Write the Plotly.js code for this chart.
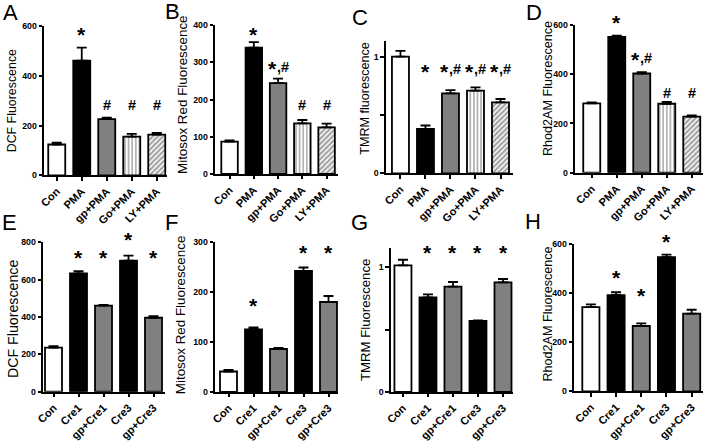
<!DOCTYPE html>
<html><head><meta charset="utf-8">
<script src="https://cdn.plot.ly/plotly-3.0.1.min.js"></script>
<style>html,body{margin:0;padding:0;background:#fff}#chart{width:706px;height:444px}</style>
</head><body><div id="chart"></div>
<script>
// ---------- data ----------
const pmaCats = ["Con", "PMA", "gp+PMA", "Go+PMA", "LY+PMA"];
const creCats = ["Con", "Cre1", "gp+Cre1", "Cre3", "gp+Cre3"];

const aVals = [124, 462, 226, 156, 164];
const aErr  = [7, 52, 6, 11, 7];
const aMarks = ["", "*", "#", "#", "#"];
const aMarkY = [null, 577, 285, 285, 285];

const bVals = [87, 339, 244, 136, 125];
const bErr  = [3, 15, 12, 9, 10];
const bMarks = ["", "*", "*,#", "#", "#"];
const bMarkY = [null, 380, 288, 185, 185];

const cVals = [1.0, 0.38, 0.686, 0.709, 0.609];
const cErr  = [0.05, 0.03, 0.028, 0.028, 0.028];
const cMarks = ["", "*", "*,#", "*,#", "*,#"];
const cMarkY = [null, 0.894, 0.894, 0.894, 0.894];

const dVals = [282, 552, 403, 280, 228];
const dErr  = [4, 5, 5, 8, 5];
const dMarks = ["", "*", "*,#", "#", "#"];
const dMarkY = [null, 620, 467, 325, 325];

const eVals = [236, 634, 461, 702, 396];
const eErr  = [8, 12, 4, 27, 9];
const eMarks = ["", "*", "*", "*", "*"];
const eMarkY = [null, 727, 727, 825, 727];

const fVals = [41, 125, 86, 242, 180];
const fErr  = [3, 4, 2, 7, 12];
const fMarks = ["", "*", "", "*", "*"];
const fMarkY = [null, 177, null, 283, 283];

const gVals = [1.013, 0.757, 0.843, 0.568, 0.877];
const gErr  = [0.045, 0.024, 0.037, 0.004, 0.027];
const gMarks = ["", "*", "*", "*", "*"];
const gMarkY = [null, 1.133, 1.133, 1.133, 1.133];

const hVals = [342, 390, 265, 545, 315];
const hErr  = [11, 12, 11, 10, 16];
const hMarks = ["", "*", "*", "*", ""];
const hMarkY = [null, 470, 395, 618, null];

const titles = ["DCF Fluorescence", "Mitosox Red Fluorescence", "TMRM fluorescence", "Rhod2AM Fluorescence",
                "DCF Fluorescence", "Mitosox Red Fluorescence", "TMRM Fluorescence", "Rhod2AM Fluorescence"];
const letters = ["A", "B", "C", "D", "E", "F", "G", "H"];

// ---------- styles ----------
const W = 706, H = 444;
const GRAY = '#808080';
const pmaFill = ['#ffffff', '#000000', GRAY, '#ffffff', '#ffffff'];
const pmaShape = ['', '', '', '|', '/'];
const pmaSolid = [0.3, 0.3, 0.3, 0.4, 0.62];
const creFill = ['#ffffff', '#000000', GRAY, '#000000', GRAY];
const creShape = ['', '', '', '', ''];

// geometry in pixels
const geo = [
  {x0: 44, x1: 167, yT: 26.3, yB: 175.3, xr: [-0.51, 4.41], yMax: 600, tv: [0,200,400,600], tx: [12.3, 101], ts: 12.4, lx: 10, ly: 12.5},
  {x0: 215, x1: 338, yT: 25, yB: 174, xr: [-0.6, 4.47], yMax: 400, tv: [0,100,200,300,400], tx: [182, 95], ts: 13.4, lx: 172, ly: 12},
  {x0: 385.7, x1: 513, yT: 40.7, yB: 173.3, xr: [-0.59, 4.5], yMax: 1.137, tv: [0,0.5,1], tt: ["0","","1"], tx: [364.3, 98.5], ts: 12.6, lx: 360, ly: 17.5},
  {x0: 575, x1: 703, yT: 25, yB: 172.7, xr: [-0.67, 4.45], yMax: 600, tv: [0,200,400,600], tx: [548, 89], ts: 12.6, lx: 533.5, ly: 12.5},
  {x0: 43, x1: 165, yT: 242.3, yB: 391.7, xr: [-0.42, 4.46], yMax: 800, tv: [0,200,400,600,800], tx: [12.3, 318.7], ts: 14.2, lx: 9, ly: 222},
  {x0: 215, x1: 338, yT: 242, yB: 392, xr: [-0.54, 4.38], yMax: 300, tv: [0,100,200,300], tx: [180.7, 314.5], ts: 13.4, lx: 171, ly: 222},
  {x0: 390.7, x1: 513, yT: 248, yB: 392, xr: [-0.49, 4.4], yMax: 1.152, tv: [0,0.5,1], tt: ["0","","1"], tx: [365, 320], ts: 13.2, lx: 359, ly: 222},
  {x0: 574, x1: 703, yT: 243.5, yB: 391.3, xr: [-0.67, 4.45], yMax: 600, tv: [0,200,400,600], tx: [547, 314.5], ts: 12.6, lx: 532.5, ly: 221}
];

const panels = [
  {cats: pmaCats, vals: aVals, err: aErr, marks: aMarks, my: aMarkY, fill: pmaFill, shape: pmaShape},
  {cats: pmaCats, vals: bVals, err: bErr, marks: bMarks, my: bMarkY, fill: pmaFill, shape: pmaShape},
  {cats: pmaCats, vals: cVals, err: cErr, marks: cMarks, my: cMarkY, fill: pmaFill, shape: pmaShape},
  {cats: pmaCats, vals: dVals, err: dErr, marks: dMarks, my: dMarkY, fill: pmaFill, shape: pmaShape},
  {cats: creCats, vals: eVals, err: eErr, marks: eMarks, my: eMarkY, fill: creFill, shape: creShape},
  {cats: creCats, vals: fVals, err: fErr, marks: fMarks, my: fMarkY, fill: creFill, shape: creShape},
  {cats: creCats, vals: gVals, err: gErr, marks: gMarks, my: gMarkY, fill: creFill, shape: creShape},
  {cats: creCats, vals: hVals, err: hErr, marks: hMarks, my: hMarkY, fill: creFill, shape: creShape}
];

const FONT = 'Liberation Sans, Arial, Helvetica, sans-serif';
const traces = [];
const layout = {
  width: W, height: H, margin: {l: 0, r: 0, t: 0, b: 0},
  showlegend: false, paper_bgcolor: '#ffffff', plot_bgcolor: 'rgba(0,0,0,0)',
  annotations: []
};

panels.forEach((p, i) => {
  const g = geo[i];
  const sfx = i === 0 ? '' : String(i + 1);
  const xid = 'x' + sfx, yid = 'y' + sfx;
  traces.push({
    type: 'bar', x: p.cats, y: p.vals, xaxis: xid, yaxis: yid, width: 0.68,
    marker: {
      color: p.fill,
      line: {color: '#000000', width: 1.8},
      pattern: {shape: p.shape, fgcolor: '#000000', fillmode: 'overlay', size: 3.6, solidity: pmaSolid}
    },
    error_y: {type: 'data', symmetric: false, array: p.err, arrayminus: p.err.map(() => 0),
              color: '#000000', thickness: 1.8, width: 5},
    hoverinfo: 'skip'
  });
  const axCommon = {
    showline: true, linecolor: '#000000', linewidth: 1.8, ticks: 'outside', ticklen: 3.5,
    tickwidth: 1.8, tickcolor: '#000000', showgrid: false, zeroline: false, fixedrange: true,
    tickfont: {family: FONT, size: 8.8, color: '#000000', weight: 700}
  };
  layout['xaxis' + sfx] = Object.assign({}, axCommon, {
    domain: [g.x0 / W, g.x1 / W], range: g.xr, anchor: yid, type: 'category',
    tickangle: -45, tickfont: {family: FONT, size: 11, color: '#000000', weight: 700}
  });
  layout['yaxis' + sfx] = Object.assign({}, axCommon, {
    domain: [1 - g.yB / H, 1 - g.yT / H], range: [0, g.yMax], anchor: xid,
    tickmode: 'array', tickvals: g.tv, ticktext: g.tt || g.tv.map(String)
  });
  // significance marks: big asterisk, "#"
  p.marks.forEach((m, k) => {
    if (!m) return;
    const base = {xref: xid, yref: yid + ' domain', x: p.cats[k], y: p.my[k] / g.yMax,
                  xanchor: 'center', yanchor: 'middle', showarrow: false};
    const star = m.indexOf('*') >= 0, hash = m.indexOf('#') >= 0;
    if (star) {
      layout.annotations.push(Object.assign({}, base, {
        text: '*', xshift: hash ? -6 : 0, yshift: -2,
        font: {family: FONT, size: 21, color: '#000000', weight: 700}
      }));
    }
    if (hash) {
      layout.annotations.push(Object.assign({}, base, {
        text: star ? ',#' : '#', xshift: star ? 4.5 : 0, yshift: 0,
        font: {family: FONT, size: 14.5, color: '#000000', weight: 700}
      }));
    }
  });
  // y title
  layout.annotations.push({
    text: titles[i], xref: 'paper', yref: 'paper', x: g.tx[0] / W, y: 1 - g.tx[1] / H,
    xanchor: 'center', yanchor: 'middle', textangle: -90, showarrow: false,
    font: {family: FONT, size: g.ts, color: '#000000'}
  });
  // panel letter
  layout.annotations.push({
    text: letters[i], xref: 'paper', yref: 'paper', x: g.lx / W, y: 1 - g.ly / H,
    xanchor: 'center', yanchor: 'middle', showarrow: false,
    font: {family: FONT, size: 22, color: '#000000'}
  });
});

Plotly.newPlot('chart', traces, layout, {displayModeBar: false});
</script>
</body></html>
